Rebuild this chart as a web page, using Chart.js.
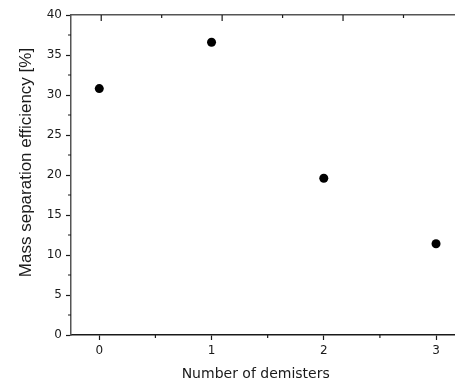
<!DOCTYPE html>
<html>
<head>
<meta charset="utf-8">
<script src="https://cdn.jsdelivr.net/npm/chart.js@4.4.0/dist/chart.umd.min.js"></script>
<style>
  html, body { margin: 0; padding: 0; background: #fff; }
  #plot { display: block; }
</style>
</head>
<body>
<canvas id="plot" width="455" height="382"></canvas>
<script>
// Mass separation efficiency vs. number of demisters
const demisters = [0, 1, 2, 3];
const efficiency = [30.8, 36.6, 19.6, 11.4];

// tick positions
const xMajor = [0, 1, 2, 3];
const xMinor = [0.5, 1.5, 2.5];
const topMajor = [0, 1, 2];
const topMinor = [0.5, 1.5, 2.5];
const yMajor = [0, 5, 10, 15, 20, 25, 30, 35, 40];
const yMinor = [2.5, 7.5, 12.5, 17.5, 22.5, 27.5, 32.5, 37.5];

const xTitle = 'Number of demisters';
const yTitle = 'Mass separation efficiency [%]';

const TICK_FONT = 'DejaVu Sans';
const INK = '#1a1a1a';

// minor ticks + inward ticks on the top axis
const extraTicks = {
  id: 'extraTicks',
  afterDraw(chart) {
    const { ctx, chartArea: a, scales } = chart;
    ctx.save();
    ctx.strokeStyle = INK;
    ctx.lineWidth = 1.2;
    ctx.beginPath();
    xMinor.forEach(v => {
      const px = scales.x.getPixelForValue(v);
      ctx.moveTo(px, a.bottom);
      ctx.lineTo(px, a.bottom + 3);
    });
    yMinor.forEach(v => {
      const py = scales.y.getPixelForValue(v);
      ctx.moveTo(a.left, py);
      ctx.lineTo(a.left - 3, py);
    });
    topMajor.forEach(v => {
      const px = scales.x2.getPixelForValue(v);
      ctx.moveTo(px, a.top);
      ctx.lineTo(px, a.top + 6);
    });
    topMinor.forEach(v => {
      const px = scales.x2.getPixelForValue(v);
      ctx.moveTo(px, a.top);
      ctx.lineTo(px, a.top + 3);
    });
    ctx.stroke();
    ctx.restore();
  }
};

// axis titles, placed a little off-centre like the original figure
const axisTitles = {
  id: 'axisTitles',
  afterDraw(chart) {
    const { ctx, chartArea: a } = chart;
    ctx.save();
    ctx.fillStyle = INK;
    ctx.textAlign = 'center';
    ctx.textBaseline = 'alphabetic';
    ctx.font = '14px "DejaVu Sans"';
    ctx.fillText(xTitle, a.left + a.width * 0.481, chart.height - 4.5);
    ctx.translate(31, a.top + a.height * 0.461);
    ctx.rotate(-Math.PI / 2);
    ctx.font = '17px "Liberation Sans"';
    ctx.fillText(yTitle, 0, 0);
    ctx.restore();
  }
};

new Chart(document.getElementById('plot'), {
  type: 'scatter',
  data: {
    datasets: [{
      data: demisters.map((d, i) => ({ x: d, y: efficiency[i] })),
      backgroundColor: '#000',
      borderWidth: 0,
      pointRadius: 4.5
    }]
  },
  options: {
    responsive: false,
    animation: false,
    layout: { padding: 0, autoPadding: false },
    plugins: { legend: { display: false }, tooltip: { enabled: false } },
    scales: {
      x: {
        type: 'linear',
        position: 'bottom',
        min: -0.252,
        max: 3.169,
        afterBuildTicks: s => { s.ticks = xMajor.map(v => ({ value: v })); },
        afterFit: s => { s.height = 47; },
        grid: { drawOnChartArea: false, tickLength: 5, tickColor: INK, tickWidth: 1.2 },
        border: { color: INK, width: 1.5 },
        ticks: { color: INK, padding: 4, maxRotation: 0, font: { family: TICK_FONT, size: 12 } }
      },
      x2: {
        type: 'linear',
        position: 'top',
        min: -0.25,
        max: 2.926,
        afterFit: s => { s.height = 15; },
        grid: { display: false },
        ticks: { display: false },
        border: { display: true, color: '#555', width: 1.5 }
      },
      y: {
        min: 0,
        max: 40,
        afterBuildTicks: s => { s.ticks = yMajor.map(v => ({ value: v })); },
        afterFit: s => { s.width = 71; },
        grid: { drawOnChartArea: false, tickLength: 5, tickColor: INK, tickWidth: 1.2 },
        border: { color: '#555', width: 1.5 },
        ticks: { color: INK, padding: 4, font: { family: TICK_FONT, size: 12 } }
      }
    }
  },
  plugins: [extraTicks, axisTitles]
});
</script>
</body>
</html>
